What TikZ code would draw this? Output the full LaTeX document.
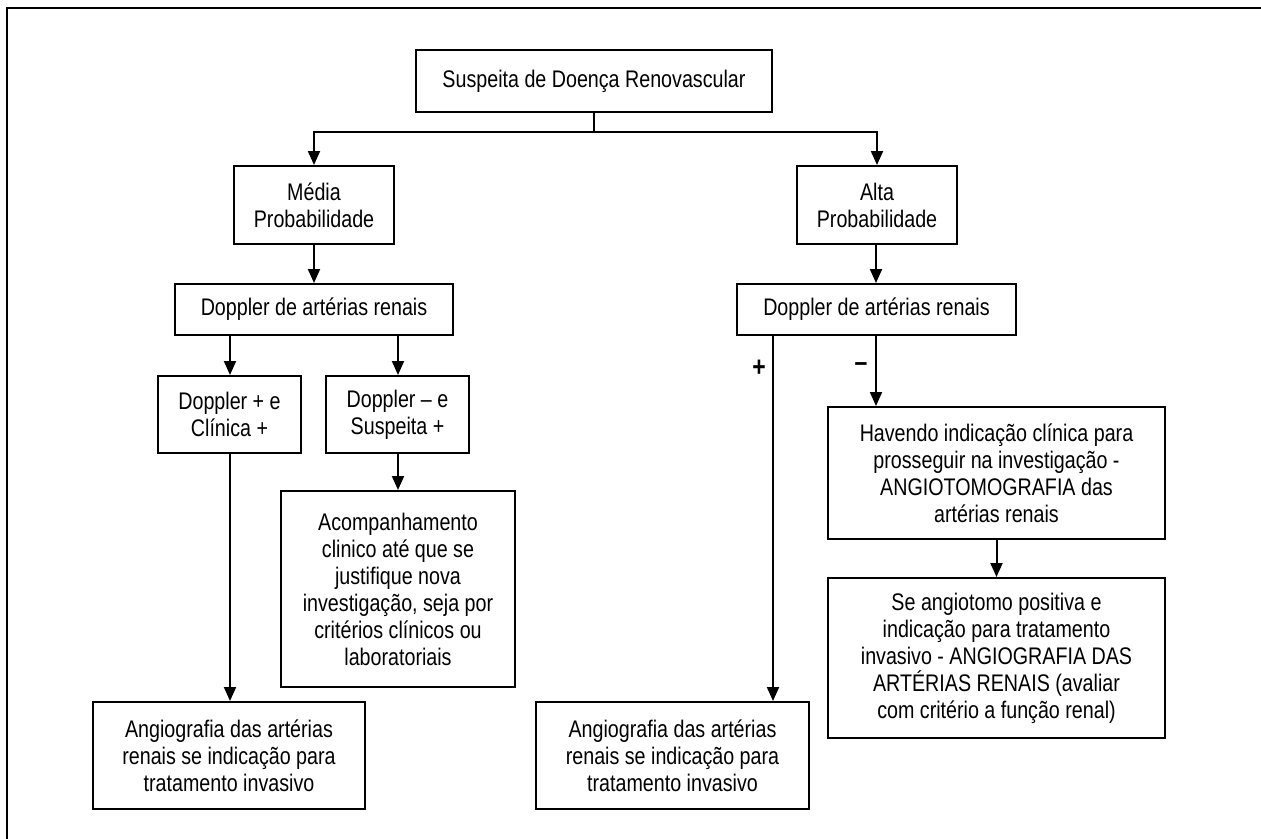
\documentclass[tikz,border=0pt]{standalone}
\usepackage{fontspec}
\setmainfont{Liberation Sans}[FakeStretch=0.82]
\usetikzlibrary{arrows.meta}
\begin{document}
\begin{tikzpicture}[x=0.75pt,y=-0.75pt,
  box/.style={draw,line width=1.5pt,inner sep=0pt,align=center,
    font=\fontsize{18}{20.25}\selectfont},
  arr/.style={line width=1.5pt,-{Triangle[width=9pt,length=10.5pt]}},
  lbl/.style={font=\fontsize{21}{22}\selectfont\bfseries}]
\useasboundingbox (0,0) rectangle (1261,839);
\draw[line width=1.5pt] (7,850) -- (7,8) -- (1270,8);
% nodes
\node[box,minimum width=267pt,minimum height=46.5pt] (top) at (594,81) {Suspeita de Doença Renovascular};
\node[box,minimum width=120pt,minimum height=58.5pt] (media) at (314,205) {Média\\Probabilidade};
\node[box,minimum width=120pt,minimum height=58.5pt] (alta) at (877,205) {Alta\\Probabilidade};
\node[box,minimum width=208.5pt,minimum height=38.25pt] (dopL) at (314,309.5) {Doppler de artérias renais};
\node[box,minimum width=209pt,minimum height=38.25pt] (dopR) at (876.5,309.5) {Doppler de artérias renais};
\node[box,minimum width=107.25pt,minimum height=57.75pt] (clin) at (229.5,414.5) {Doppler + e\\Clínica +};
\node[box,minimum width=107.25pt,minimum height=57.75pt] (susp) at (397.5,414.5) {Doppler – e\\Suspeita +};
\node[box,minimum width=175.5pt,minimum height=147pt] (acomp) at (398,589) {Acompanhamento\\clinico até que se\\justifique nova\\investigação, seja por\\critérios clínicos ou\\laboratoriais};
\node[box,minimum width=204pt,minimum height=80.25pt] (angL) at (229,755.5) {Angiografia das artérias\\renais se indicação para\\tratamento invasivo};
\node[box,minimum width=204.75pt,minimum height=80.25pt] (angR) at (672.5,755.5) {Angiografia das artérias\\renais se indicação para\\tratamento invasivo};
\node[box,minimum width=252.75pt,minimum height=99pt] (hav) at (996.5,473) {Havendo indicação clínica para\\prosseguir na investigação -\\ANGIOTOMOGRAFIA das\\artérias renais};
\node[box,minimum width=252.75pt,minimum height=120pt] (se) at (996.5,658) {Se angiotomo positiva e\\indicação para tratamento\\invasivo - ANGIOGRAFIA DAS\\ARTÉRIAS RENAIS (avaliar\\com critério a função renal)};
% helper coordinates
\coordinate (bar) at (594,132);
\coordinate (xl1) at (230,0);
\coordinate (xl2) at (398,0);
\coordinate (xplus) at (773,0);
\coordinate (xminus) at (876,0);
% connectors
\draw[line width=1.5pt] (top.south) -- (bar);
\draw[arr] (bar) -| (media.north);
\draw[arr] (bar) -| (alta.north);
\draw[arr] (media) -- (dopL);
\draw[arr] (alta.south -| xminus) -- (dopR.north -| xminus);
\draw[arr] (dopL.south -| xl1) -- (clin.north -| xl1);
\draw[arr] (dopL.south -| xl2) -- (susp.north -| xl2);
\draw[arr] (susp.south -| xl2) -- (acomp.north -| xl2);
\draw[arr] (clin.south -| xl1) -- (angL.north -| xl1);
\draw[arr] (dopR.south -| xplus) -- (angR.north -| xplus);
\draw[arr] (dopR.south -| xminus) -- (hav.north -| xminus);
\draw[arr] (hav) -- (se);
\node[lbl] (plus) at (759,368) {+};
\node[lbl] (minus) at (861,367) {–};
\end{tikzpicture}
\end{document}
